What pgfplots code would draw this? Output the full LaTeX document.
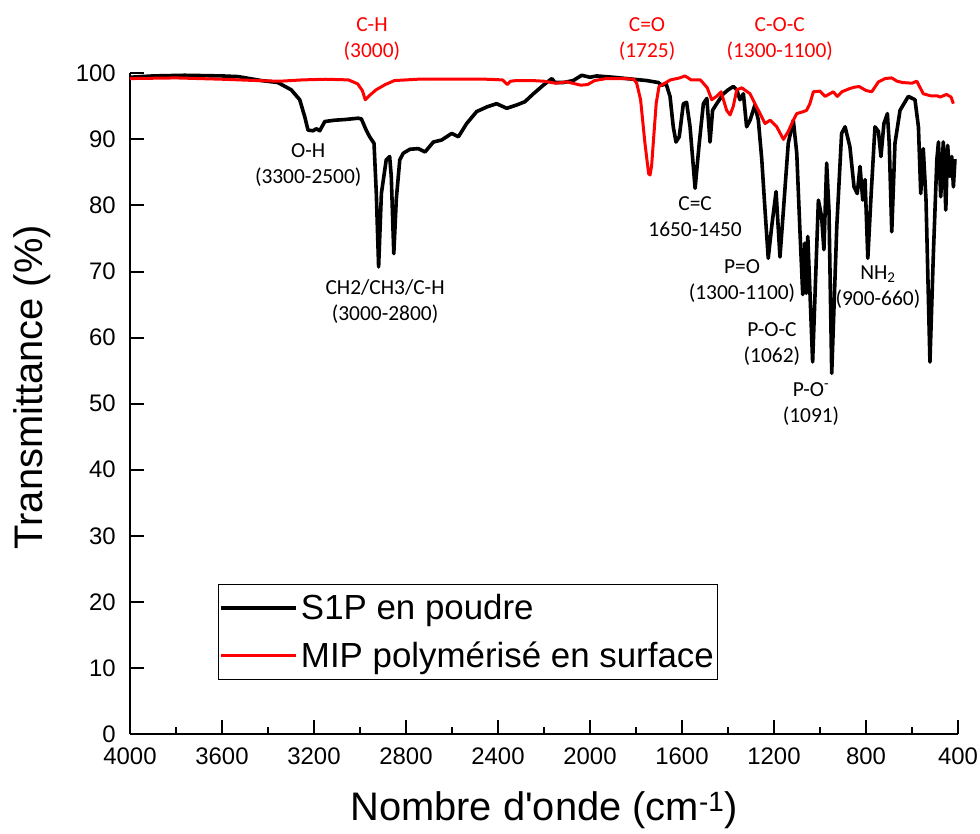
\documentclass[border=0pt]{standalone}
\usepackage{fontspec}
\setmainfont{Liberation Sans}
\newfontfamily\calib{Carlito}
\usepackage{pgfplots}
\pgfplotsset{compat=1.18}

% FTIR spectra
\pgfplotstableread{
wn    T
4000  99.4
3900  99.6
3762  99.7
3600  99.6
3530  99.5
3429  98.9
3357  98.6
3299  97.5
3262  96.0
3240  93.4
3226  91.4
3204  91.3
3190  91.6
3175  91.3
3153  92.7
3110  92.9
3066  93.0
3009  93.2
2994  93.1
2973  91.4
2958  90.4
2939  89.4
2929  81.8
2919  70.7
2907  81.8
2886  86.9
2871  87.4
2864  84.4
2853  72.7
2842  81.0
2827  86.9
2812  87.9
2783  88.5
2747  88.6
2717  88.1
2681  89.6
2645  89.9
2601  90.9
2572  90.4
2536  92.4
2493  94.2
2449  94.9
2406  95.4
2362  94.7
2319  95.2
2283  95.7
2246  96.9
2203  98.2
2166  99.2
2152  98.6
2116  98.6
2073  98.9
2036  99.7
2000  99.4
1971  99.6
1899  99.4
1812  99.1
1753  98.9
1703  98.6
1688  98.2
1669  98.4
1652  96.5
1638  91.9
1626  89.6
1612  90.4
1594  95.4
1580  95.6
1565  91.9
1543  82.6
1525  89.4
1507  95.4
1492  96.2
1478  89.6
1467  94.4
1449  95.4
1420  96.9
1399  97.5
1377  98.0
1362  97.5
1348  96.0
1333  96.9
1319  91.9
1304  92.9
1283  95.2
1268  92.9
1253  86.9
1239  79.3
1225  72.0
1210  76.8
1191  82.1
1174  72.2
1159  79.3
1138  89.4
1116  92.9
1101  87.9
1087  76.0
1075  66.5
1066  74.3
1060  66.7
1053  75.3
1032  56.3
1007  80.8
993   78.3
983   73.3
971   86.4
961   79.3
949   54.6
927   76.8
906   90.9
891   91.9
870   88.9
852   82.8
838   81.8
826   85.9
814   80.8
804   83.9
792   72.0
779   80.8
761   91.9
746   91.2
735   87.4
722   92.4
707   93.9
699   89.4
688   76.0
674   89.4
652   94.4
616   96.5
587   96.0
572   91.9
562   81.8
551   88.6
539   80.8
522   56.3
507   72.7
492   86.9
485   89.6
475   81.3
464   89.6
453   79.3
445   89.1
435   84.4
427   87.4
420   82.8
413   87.0
}\poudre

\pgfplotstableread{
wn    T
4000  99.2
3800  99.3
3600  99.1
3450  98.9
3350  98.8
3250  99.0
3150  99.1
3050  99.0
3010  98.4
2990  97.4
2977  96.0
2960  96.6
2930  97.5
2890  98.3
2850  98.9
2750  99.1
2600  99.1
2450  99.1
2380  99.0
2360  98.3
2345  98.8
2320  98.9
2250  98.9
2200  98.8
2150  98.5
2100  98.7
2040  98.2
2010  98.3
1980  98.9
1930  99.2
1850  99.2
1810  99.1
1797  98.5
1780  96.0
1761  89.4
1745  84.8
1739  84.6
1732  86.0
1725  89.4
1712  95.5
1700  98.0
1680  98.4
1650  99.0
1610  99.3
1587  99.6
1560  99.0
1520  99.0
1490  97.8
1471  96.0
1450  96.5
1430  97.2
1406  94.4
1391  93.7
1377  95.0
1362  97.5
1340  97.8
1304  96.9
1283  95.4
1268  94.4
1239  92.4
1217  92.9
1188  91.9
1159  90.0
1138  91.2
1116  92.9
1101  93.9
1072  94.2
1058  94.4
1044  95.4
1029  97.2
1000  97.3
978   96.5
942   97.2
925   96.5
905   97.2
870   97.7
850   97.9
830   98.0
800   97.4
775   97.2
746   98.7
717   99.2
688   99.3
665   98.8
640   98.6
600   98.5
579   98.8
551   96.9
520   96.6
490   96.6
478   96.4
450   96.8
430   96.4
420   95.4
}\mip

\begin{document}
\begin{tikzpicture}
\begin{axis}[
  at={(0,0)}, anchor=south west,
  width=828bp, height=660.7bp, scale only axis,
  x dir=reverse,
  xmin=400, xmax=4000, ymin=0, ymax=100,
  axis lines*=left,
  axis line style={line width=2.2bp},
  clip mode=individual,
  xtick={400,800,...,4000},
  minor xtick={600,1000,...,3800},
  ytick={0,10,...,100},
  tick align=inside,
  major tick length=14bp, minor tick length=7bp,
  every tick/.style={black, line width=2bp},
  tick label style={font=\fontsize{24}{28}\selectfont, inner sep=0pt},
  /pgf/number format/assume math mode=true,
  /pgf/number format/1000 sep={},
  xticklabel style={anchor=base, yshift=-30bp},
  yticklabel style={anchor=east, xshift=-14bp},
  xlabel={Nombre d\textquotesingle onde (cm\textsuperscript{-1})},
  ylabel={Transmittance (\%)},
  label style={font=\fontsize{40}{48}\selectfont},
  xlabel style={at={(axis description cs:0.5,-0.1302)}, anchor=base},
  ylabel style={at={(axis description cs:-0.1051,0.525)}, anchor=base},
  legend style={at={(axis description cs:0.1063,0.227)}, anchor=north west,
    draw=black, line width=0.8bp, font=\fontsize{35}{40}\selectfont,
    inner xsep=0.5bp, inner ysep=8bp, row sep=17bp,
    nodes={inner xsep=3.5bp, inner ysep=2bp}},
  legend cell align=left,
  legend image code/.code={\draw[#1] (0bp,0bp) -- (75bp,0bp);},
  every axis plot/.append style={line join=round},
]
\addplot[black, line width=3.6bp] table[x=wn, y=T] {\poudre};
\addlegendentry{S1P en poudre}
\addplot[red, line width=3bp] table[x=wn, y=T] {\mip};
\addlegendentry{MIP polymérisé en surface}

\begin{scope}[every node/.style={font=\calib\fontsize{21.5}{26}\selectfont, align=center}]
\node[red] at (axis cs:2948,105.2) {C-H\\(3000)};
\node[red] at (axis cs:1752,105.2) {C=O\\(1725)};
\node[red] at (axis cs:1175,105.2) {C-O-C\\(1300-1100)};
\node at (axis cs:3225,86.1) {O-H\\(3300-2500)};
\node at (axis cs:2891,65.4) {CH2/CH3/C-H\\(3000-2800)};
\node at (axis cs:1543,78.3) {C=C\\1650-1450};
\node at (axis cs:1339,68.5) {P=O\\(1300-1100)};
\node at (axis cs:748,67.7) {NH\textsubscript{2}\\(900-660)};
\node at (axis cs:1209,59.0) {P-O-C\\(1062)};
\node at (axis cs:1039,50.0) {P-O\textsuperscript{-}\\(1091)};
\end{scope}
\end{axis}
\useasboundingbox (-130bp,-100bp) rectangle (850bp,734bp);
\end{tikzpicture}
\end{document}
